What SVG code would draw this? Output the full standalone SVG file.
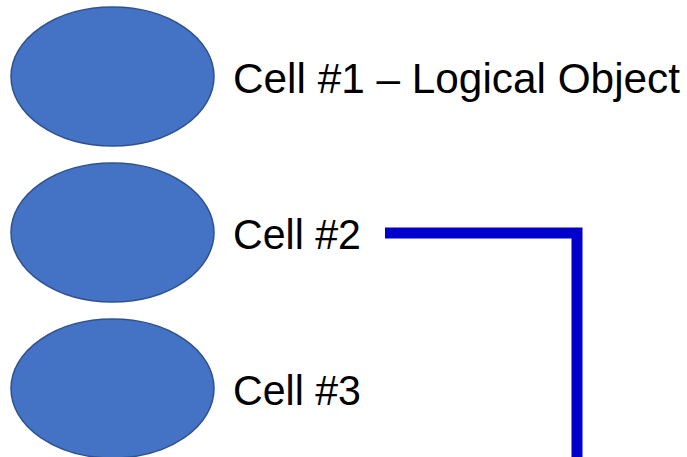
<svg xmlns="http://www.w3.org/2000/svg" width="687" height="457" viewBox="0 0 687 457">
<style>
.cell{fill:#4472C4;stroke:#2F528F;stroke-width:1.5}
.lbl{font-family:"Liberation Sans",Arial,sans-serif;font-size:42px;fill:#000}
.conn{fill:none;stroke:#0000CC;stroke-width:11;stroke-linejoin:miter}
</style>
<rect width="687" height="457" fill="#fff"/>
<g id="cell1">
<ellipse class="cell" cx="112.5" cy="76.5" rx="101.5" ry="69.5"/>
<text class="lbl" x="233" y="93" textLength="447" lengthAdjust="spacingAndGlyphs">Cell #1 – Logical Object</text>
</g>
<g id="cell2">
<ellipse class="cell" cx="112.5" cy="232.5" rx="101.5" ry="69.5"/>
<text class="lbl" x="233" y="249" textLength="128" lengthAdjust="spacingAndGlyphs">Cell #2</text>
</g>
<g id="cell3">
<ellipse class="cell" cx="112.5" cy="388.5" rx="101.5" ry="69.5"/>
<text class="lbl" x="233" y="405" textLength="128" lengthAdjust="spacingAndGlyphs">Cell #3</text>
</g>
<g id="connectors">
<path class="conn" d="M385,233 H577 V460"/>
</g>
</svg>
